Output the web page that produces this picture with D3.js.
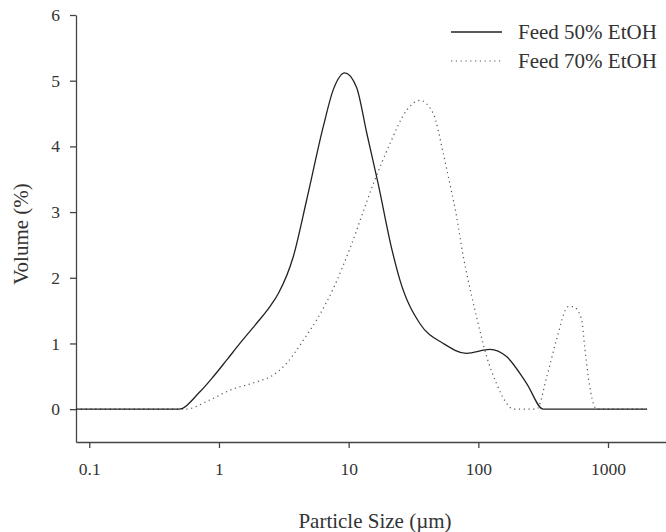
<!DOCTYPE html>
<html>
<head>
<meta charset="utf-8">
<script src="https://cdn.jsdelivr.net/npm/d3@7"></script>
<style>
  body { margin: 0; background: #fff; }
  svg text { font-family: "Liberation Serif", "Times New Roman", Times, serif !important; fill: #333; }
</style>
</head>
<body>
<script>
// particle size (um) and volume (%)
var size50 = [0.079, 0.49, 0.71, 0.9, 1.15, 1.45, 1.9, 2.47, 2.87, 3.74, 4.74, 6.37, 7.6, 9.35, 11.5, 13.8, 16.9, 21.5, 24.9, 35.5, 53.7, 81, 123, 165, 236, 317, 2000];
var vol50  = [0, 0, 0.26, 0.49, 0.75, 1.0, 1.28, 1.56, 1.76, 2.32, 3.18, 4.30, 4.86, 5.12, 4.9, 4.2, 3.43, 2.44, 1.96, 1.30, 1.0, 0.85, 0.91, 0.80, 0.39, 0, 0];

var size70 = [0.079, 0.55, 0.85, 1.22, 1.84, 2.62, 3.33, 4.47, 5.83, 7.8, 10.2, 15.5, 20.8, 28, 35.5, 44.9, 53.7, 60.3, 68, 76.6, 81.3, 97, 116, 138, 165, 186, 282, 337, 400, 493, 538, 625, 661, 705, 770, 820, 2000];
var vol70  = [0, 0, 0.14, 0.29, 0.40, 0.52, 0.70, 1.05, 1.40, 1.88, 2.44, 3.43, 4.04, 4.55, 4.70, 4.50, 3.89, 3.43, 2.93, 2.32, 2.07, 1.40, 0.80, 0.39, 0.09, 0, 0, 0.49, 1.05, 1.56, 1.56, 1.37, 0.95, 0.49, 0.09, 0, 0];

var xTicks = [0.1, 1, 10, 100, 1000];
var yTicks = [0, 1, 2, 3, 4, 5, 6];
var seriesNames = ["Feed 50% EtOH", "Feed 70% EtOH"];

var w = 666, h = 532;
var serif = "'Liberation Serif', 'Times New Roman', Times, serif";

var svg = d3.select("body").append("svg")
    .attr("width", w)
    .attr("height", h);

var x = d3.scaleLog().domain([0.079, 2800]).range([76, 666]);
var y = d3.scaleLinear().domain([-0.5, 6]).range([442, 15]);

var xAxis = d3.axisBottom(x)
    .tickValues(xTicks)
    .tickFormat(function(d) { return String(d); })
    .tickSize(6).tickSizeOuter(0).tickPadding(15);

var yAxis = d3.axisLeft(y)
    .tickValues(yTicks)
    .tickFormat(d3.format("d"))
    .tickSize(6).tickSizeOuter(0).tickPadding(10);

var gx = svg.append("g").attr("transform", "translate(0,442)").call(xAxis);
var gy = svg.append("g").attr("transform", "translate(76,0)").call(yAxis);

[gx, gy].forEach(function(g) {
    g.attr("font-family", serif);
    g.selectAll("path, line").attr("stroke", "#444").attr("stroke-width", 1.3);
    g.selectAll("text")
        .attr("fill", "#333")
        .style("font-size", "17.5px");
});

var line = d3.line()
    .x(function(d) { return x(d[0]); })
    .y(function(d) { return y(d[1]); })
    .curve(d3.curveMonotoneX);

var d50 = size50.map(function(s, i) { return [s, vol50[i]]; });
var d70 = size70.map(function(s, i) { return [s, vol70[i]]; });

svg.append("path")
    .attr("d", line(d70))
    .attr("fill", "none")
    .attr("stroke", "#555")
    .attr("stroke-width", 1.2)
    .attr("stroke-dasharray", "1.2,3.6");

svg.append("path")
    .attr("d", line(d50))
    .attr("fill", "none")
    .attr("stroke", "#222")
    .attr("stroke-width", 1.3);

// legend
var leg = svg.append("g").attr("font-family", serif);
leg.append("line").attr("x1", 451).attr("x2", 502).attr("y1", 32).attr("y2", 32)
    .attr("stroke", "#222").attr("stroke-width", 1.3);
leg.append("line").attr("x1", 451).attr("x2", 502).attr("y1", 61).attr("y2", 61)
    .attr("stroke", "#555").attr("stroke-width", 1.2).attr("stroke-dasharray", "1.2,3.6");
leg.selectAll("text")
    .data(seriesNames)
    .enter()
    .append("text")
    .attr("x", 518)
    .attr("y", function(d, i) { return 39 + i * 29; })
    .style("font-size", "21px")
    .text(function(d) { return d; });

// axis titles
svg.append("text")
    .attr("x", 375)
    .attr("y", 528)
    .attr("text-anchor", "middle")
    .attr("font-family", serif)
    .style("font-size", "21px")
    .text("Particle Size (\u00b5m)");

svg.append("text")
    .attr("transform", "translate(28,234) rotate(-90)")
    .attr("text-anchor", "middle")
    .attr("font-family", serif)
    .style("font-size", "21px")
    .text("Volume (%)");
</script>
</body>
</html>
